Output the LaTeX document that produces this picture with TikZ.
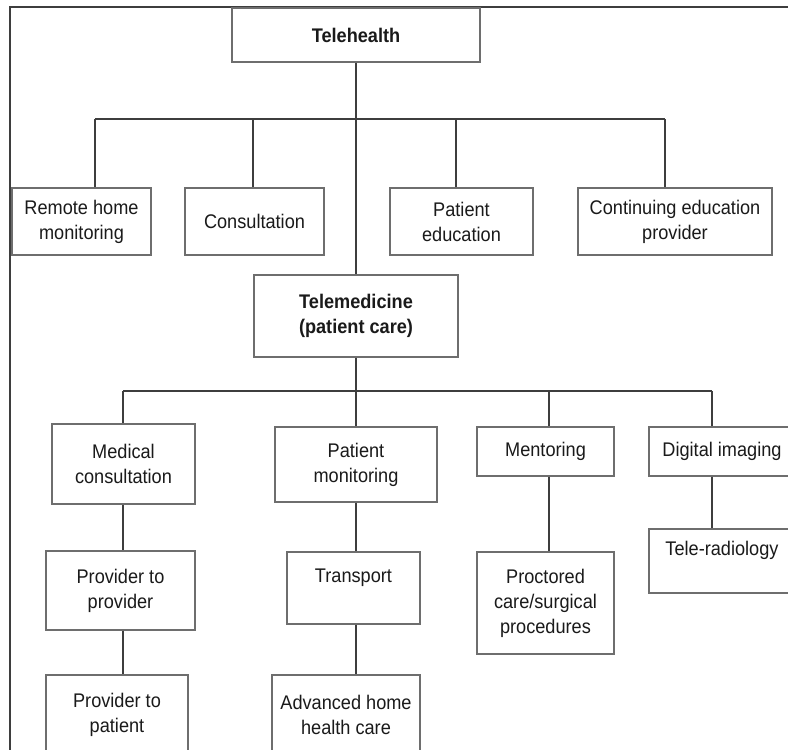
\documentclass[tikz,border=0pt]{standalone}
\usepackage{fontspec}
\setmainfont{Liberation Sans}[FakeStretch=0.92]
\usetikzlibrary{calc}
\definecolor{boxgray}{HTML}{6E6E6E}
\definecolor{linkgray}{HTML}{3E3E3E}
\definecolor{txt}{HTML}{1A1A1A}
\newcommand\chartbox[6]{\node[box,minimum width={(#4-#2)*0.75pt},minimum height={(#5-#3)*0.75pt}] (#1) at ({(#2+#4)/2},{(#3+#5)/2}) {#6};}
\begin{document}
\begin{tikzpicture}[x=0.75pt,y=-0.75pt,
  box/.style={draw=boxgray,line width=1.1pt,align=center,inner sep=0pt,text=txt,
    font=\fontsize{14.8}{18.75}\selectfont},
  link/.style={draw=linkgray,line width=1.1pt},
  frame/.style={draw=linkgray,line width=1.5pt}]
\useasboundingbox (0,0) rectangle (788,749);
\clip (0,0) rectangle (788,749);
\fill[white] (0,0) rectangle (788,749);

% frame
\draw[frame] (10,760) -- (10,7) -- (800,7);

% top levels
\chartbox{th}{232}{8}{480}{62}{\textbf{Telehealth}}
\chartbox{rhm}{12}{188}{151}{255}{Remote home\\monitoring}
\chartbox{cons}{185}{188}{324}{255}{Consultation}
\chartbox{pe}{390}{188}{533}{255}{Patient\\education}
\chartbox{ce}{578}{188}{772}{255}{Continuing education\\provider}
\chartbox{tm}{254}{275}{458}{357}{\textbf{Telemedicine}\\\textbf{(patient care)}}

% second level
\chartbox{mc}{52}{424}{195}{504}{Medical\\consultation}
\chartbox{pm}{275}{427}{437}{502}{Patient\\monitoring}
\chartbox{men}{477}{427}{614}{476}{Mentoring}
\chartbox{di}{649}{427}{795}{476}{Digital imaging}

% third level
\chartbox{pp}{46}{551}{195}{630}{Provider to\\provider}
\chartbox{ppat}{46}{675}{188}{755}{Provider to\\patient}
\chartbox{tr}{287}{552}{420}{624}{Transport\\~}
\chartbox{ahh}{272}{675}{420}{755}{Advanced home\\health care}
\chartbox{proc}{477}{552}{614}{654}{Proctored\\care/surgical\\procedures}
\chartbox{tele}{649}{529}{795}{593}{Tele-radiology\\~}

% connectors level 1
\coordinate (b1) at (95,119);
\coordinate (b2) at (253,119);
\coordinate (b3) at (456,119);
\coordinate (b4) at (665,119);
\draw[link] (th.south) -- (tm.north);
\draw[link] (b1) -- (b4);
\draw[link] (b1) -- (b1 |- rhm.north);
\draw[link] (b2) -- (b2 |- cons.north);
\draw[link] (b3) -- (b3 |- pe.north);
\draw[link] (b4) -- (b4 |- ce.north);

% connectors level 2
\coordinate (c1) at (123,391);
\coordinate (c3) at (549,391);
\coordinate (c4) at (712,391);
\draw[link] (tm.south) -- (tm.south |- pm.north);
\draw[link] (c1) -- (c4);
\draw[link] (c1) -- (c1 |- mc.north);
\draw[link] (c3) -- (c3 |- men.north);
\draw[link] (c4) -- (c4 |- di.north);

% connectors level 3
\draw[link] (mc.south -| c1) -- (pp.north -| c1);
\draw[link] (pp.south -| c1) -- (ppat.north -| c1);
\draw[link] (pm.south -| tm.south) -- (tr.north -| tm.south);
\draw[link] (tr.south -| tm.south) -- (ahh.north -| tm.south);
\draw[link] (men.south -| c3) -- (proc.north -| c3);
\draw[link] (di.south -| c4) -- (tele.north -| c4);
\end{tikzpicture}
\end{document}
